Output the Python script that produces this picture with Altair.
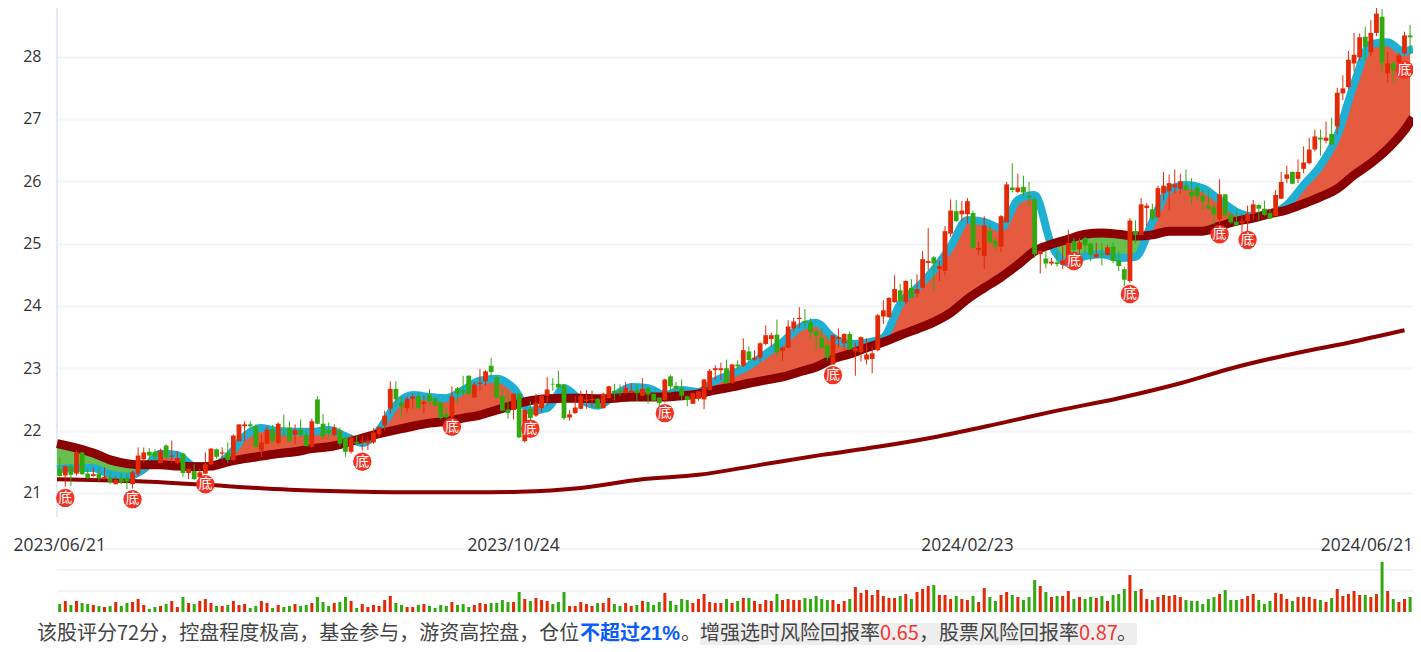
import altair as alt
import numpy as np
import pandas as pd

opens = [21.39,21.28,21.43,21.31,21.65,21.31,21.27,21.31,21.23,21.25,
21.14,21.24,21.24,21.14,21.31,21.54,21.66,21.66,21.48,21.76,
21.58,21.48,21.63,21.32,21.35,21.25,21.31,21.46,21.70,21.63,
21.65,21.53,21.83,22.07,22.10,22.07,21.68,21.79,22.02,21.80,
22.05,22.05,21.93,22.02,21.93,21.74,22.50,22.11,22.01,21.93,
22.01,21.89,21.66,21.82,21.82,21.80,21.81,21.94,22.08,22.35,
22.67,22.45,22.36,22.51,22.55,22.43,22.58,22.52,22.45,22.26,
22.22,22.68,22.65,22.88,22.53,22.75,22.79,23.04,22.86,22.55,
22.34,22.33,22.59,21.83,22.35,22.24,22.36,22.56,22.75,22.75,
22.74,22.21,22.28,22.35,22.47,22.49,22.51,22.36,22.52,22.64,
22.65,22.60,22.62,22.65,22.56,22.68,22.59,22.53,22.49,22.87,
22.72,22.68,22.55,22.43,22.51,22.50,22.65,22.97,22.97,23.00,
22.76,23.06,23.04,23.27,23.14,23.17,23.39,23.47,23.54,23.28,
23.33,23.64,23.79,23.76,23.74,23.59,23.49,23.37,23.06,23.47,
23.40,23.55,23.27,23.26,23.14,23.15,23.29,23.83,23.82,24.06,
24.25,24.06,24.29,24.20,24.29,24.69,24.78,24.59,24.56,25.16,
25.52,25.47,25.47,25.49,24.90,24.80,25.20,25.04,24.95,25.34,
25.90,25.83,25.91,25.77,25.71,24.83,24.76,24.68,24.70,24.66,
24.80,25.04,24.91,25.09,25.00,24.78,24.84,24.82,24.95,24.73,
24.59,24.40,25.20,25.14,25.57,25.55,25.42,25.81,25.84,25.90,
25.88,25.93,25.83,25.90,25.76,25.61,25.58,25.39,25.79,25.46,
25.35,25.33,25.36,25.48,25.62,25.56,25.49,25.44,25.72,26.04,
26.15,26.04,26.20,26.29,26.51,26.70,26.65,26.76,26.88,27.41,
27.51,27.89,27.99,28.32,28.07,28.38,28.64,27.73,27.89,27.90,
28.05,28.34]

closes = [21.27,21.43,21.29,21.65,21.30,21.24,21.30,21.24,21.26,21.18,
21.21,21.17,21.18,21.33,21.60,21.65,21.60,21.57,21.68,21.57,
21.60,21.56,21.32,21.39,21.22,21.33,21.46,21.71,21.58,21.65,
21.53,21.92,22.10,22.10,22.07,21.74,21.81,22.02,21.83,22.11,
22.04,21.83,22.01,21.93,21.75,22.15,22.11,21.91,21.96,22.05,
21.79,21.66,21.89,21.79,21.84,21.84,21.97,22.06,22.24,22.67,
22.50,22.39,22.51,22.55,22.36,22.46,22.47,22.40,22.20,22.21,
22.55,22.59,22.61,22.59,22.74,22.77,22.95,22.94,22.53,22.32,
22.28,22.59,21.89,22.33,22.20,22.44,22.56,22.66,22.74,22.69,
22.20,22.26,22.37,22.56,22.50,22.51,22.36,22.59,22.71,22.60,
22.61,22.69,22.64,22.60,22.67,22.58,22.48,22.44,22.82,22.71,
22.67,22.56,22.49,22.60,22.63,22.82,22.96,23.00,23.00,22.76,
23.06,23.03,23.29,23.13,23.17,23.40,23.53,23.53,23.26,23.33,
23.67,23.75,23.81,23.73,23.58,23.52,23.33,23.17,23.53,23.50,
23.55,23.30,23.33,23.50,23.22,23.24,23.85,23.93,24.13,24.27,
24.08,24.40,24.13,24.27,24.75,24.72,24.68,24.64,25.20,25.53,
25.36,25.53,25.68,24.93,24.93,25.29,25.02,24.97,25.44,25.95,
25.86,25.90,25.82,25.74,24.83,24.88,24.68,24.71,24.67,24.73,
25.01,24.90,25.02,24.97,24.82,24.83,24.82,24.94,24.72,24.64,
24.42,25.37,25.14,25.63,25.61,25.40,25.89,25.93,25.97,25.95,
26.00,25.86,25.76,25.76,25.68,25.56,25.47,25.79,25.45,25.34,
25.29,25.36,25.48,25.63,25.56,25.46,25.40,25.78,25.99,26.11,
25.96,26.15,26.30,26.51,26.72,26.67,26.70,26.59,27.42,27.49,
27.95,28.03,28.31,28.16,28.38,28.69,27.90,27.89,27.78,28.02,
28.34,28.31]

highs = [21.58,21.44,21.46,21.68,21.66,21.40,21.41,21.41,21.41,21.34,
21.27,21.31,21.31,21.36,21.73,21.73,21.72,21.70,21.71,21.78,
21.84,21.67,21.64,21.39,21.46,21.39,21.65,21.72,21.71,21.73,
21.81,21.94,22.10,22.15,22.15,22.10,21.94,22.07,22.09,22.13,
22.26,22.15,22.10,22.18,22.01,22.19,22.55,22.27,22.13,22.10,
22.05,21.91,21.93,21.93,21.92,21.89,22.04,22.06,22.32,22.79,
22.79,22.55,22.55,22.60,22.61,22.56,22.67,22.53,22.47,22.37,
22.71,22.70,22.88,22.89,22.78,22.99,22.97,23.17,22.87,22.67,
22.63,22.60,22.60,22.35,22.47,22.59,22.58,22.86,22.84,22.96,
22.75,22.33,22.55,22.64,22.65,22.64,22.52,22.61,22.72,22.75,
22.74,22.78,22.76,22.74,22.84,22.70,22.60,22.53,22.83,22.89,
22.78,22.82,22.56,22.61,22.64,22.83,22.99,23.05,23.09,23.14,
23.07,23.13,23.48,23.35,23.29,23.42,23.69,23.57,23.78,23.35,
23.77,23.81,23.98,23.95,23.80,23.63,23.64,23.53,23.54,23.64,
23.56,23.59,23.41,23.51,23.48,23.34,23.87,24.09,24.14,24.49,
24.35,24.41,24.43,24.51,24.88,25.25,24.80,24.73,25.28,25.71,
25.70,25.68,25.73,25.53,25.04,25.44,25.31,25.09,25.46,25.99,
26.29,26.12,26.09,25.99,25.75,24.89,24.89,24.77,24.88,24.98,
25.22,25.09,25.09,25.11,25.01,25.01,25.01,24.98,25.02,24.88,
24.63,25.41,25.37,25.73,25.65,25.64,25.93,26.15,26.11,26.19,
26.12,26.19,26.05,25.95,25.87,25.87,25.65,26.03,25.79,25.51,
25.55,25.47,25.61,25.70,25.63,25.69,25.56,25.86,26.15,26.25,
26.16,26.35,26.56,26.70,26.83,26.83,26.96,27.02,27.50,27.70,
28.09,28.38,28.37,28.48,28.59,28.80,28.76,28.07,27.93,28.06,
28.40,28.51]

lows = [21.26,21.10,21.11,21.28,21.29,21.22,21.26,21.19,21.22,21.14,
21.14,21.14,21.06,21.07,21.27,21.49,21.52,21.53,21.48,21.55,
21.49,21.46,21.26,21.22,21.21,21.20,21.30,21.45,21.55,21.53,
21.48,21.51,21.83,21.82,22.00,21.73,21.57,21.78,21.80,21.76,
21.90,21.82,21.78,21.89,21.75,21.73,22.10,21.87,21.90,21.90,
21.75,21.58,21.63,21.78,21.68,21.69,21.79,21.89,22.00,22.27,
22.39,22.22,22.29,22.35,22.35,22.28,22.40,22.38,22.18,22.19,
22.20,22.43,22.56,22.56,22.52,22.64,22.72,22.86,22.52,22.31,
22.19,22.18,21.88,21.81,22.04,22.22,22.29,22.40,22.64,22.67,
22.17,22.16,22.27,22.34,22.35,22.37,22.35,22.35,22.51,22.48,
22.56,22.59,22.60,22.47,22.55,22.43,22.47,22.39,22.45,22.60,
22.64,22.49,22.39,22.43,22.48,22.34,22.64,22.81,22.81,22.75,
22.75,22.97,23.02,23.09,23.12,23.11,23.37,23.34,23.18,23.12,
23.32,23.59,23.64,23.66,23.47,23.30,23.31,23.12,23.06,23.34,
23.29,23.30,22.88,23.11,23.06,22.92,23.27,23.71,23.81,24.05,
24.01,24.03,24.13,24.14,24.28,24.57,24.24,24.40,24.49,25.11,
25.35,25.36,25.32,24.92,24.81,24.59,25.00,24.90,24.87,25.34,
25.82,25.81,25.76,25.59,24.77,24.52,24.60,24.65,24.63,24.59,
24.72,24.77,24.84,24.85,24.72,24.77,24.65,24.81,24.69,24.56,
24.32,24.37,25.01,25.14,25.28,25.36,25.42,25.69,25.53,25.80,
25.80,25.84,25.63,25.68,25.55,25.55,25.30,25.32,25.44,25.32,
25.28,25.17,25.20,25.38,25.38,25.44,25.40,25.44,25.71,25.97,
25.95,25.97,26.13,26.27,26.48,26.41,26.61,26.58,26.75,27.30,
27.48,27.76,27.93,27.93,28.00,28.33,27.74,27.59,27.59,27.87,
28.02,28.03]

volumes = [24,33,21,33,27,24,21,18,15,18,
30,18,27,30,39,21,9,15,18,24,
33,15,45,27,24,33,39,27,18,18,
21,33,21,24,12,18,33,27,12,21,
15,18,24,18,21,27,45,30,18,27,
30,45,33,12,24,15,21,18,36,48,
27,21,15,15,21,24,18,12,21,18,
30,21,24,15,21,27,24,27,27,36,
30,30,60,39,33,42,36,33,24,30,
60,18,18,30,24,18,27,27,42,24,
18,27,18,21,33,30,21,30,57,33,
21,39,36,27,39,54,30,27,27,39,
27,33,42,42,33,24,36,33,54,36,
39,36,36,42,39,48,39,36,36,24,
33,39,75,57,66,51,66,48,42,42,
48,54,39,60,69,78,81,51,51,39,
48,39,36,48,30,72,45,33,51,60,
51,45,36,45,96,78,60,45,48,48,
63,39,45,39,45,42,48,33,51,54,
69,111,63,69,39,36,45,51,48,51,
45,36,33,33,24,39,45,54,66,36,
36,39,48,54,36,24,33,57,54,39,
33,45,45,45,39,36,30,42,69,48,
54,63,51,51,45,54,150,63,39,30,
39,45]

ma_idx = [-0.48] + list(range(3, 241, 3)) + [241, 241.52]
ma_mid = [21.79,21.72,21.64,21.53,21.47,21.45,21.45,21.43,21.42,21.43,
21.50,21.55,21.59,21.63,21.66,21.71,21.74,21.80,21.88,21.95,
22.01,22.07,22.12,22.15,22.20,22.25,22.33,22.41,22.48,22.51,
22.52,22.52,22.51,22.52,22.54,22.54,22.54,22.56,22.59,22.65,
22.70,22.76,22.81,22.86,22.94,23.02,23.15,23.23,23.33,23.42,
23.53,23.63,23.74,23.89,24.11,24.29,24.46,24.66,24.88,24.99,
25.07,25.15,25.17,25.15,25.12,25.14,25.20,25.20,25.20,25.28,
25.36,25.41,25.48,25.54,25.64,25.75,25.88,26.10,26.29,26.52,
26.82,26.95,27.02]
ma_fast = [21.38,21.40,21.40,21.30,21.26,21.38,21.63,21.61,21.43,21.43,
21.58,21.91,22.04,21.99,21.98,21.98,22.01,21.91,21.80,22.01,
22.41,22.57,22.54,22.52,22.65,22.80,22.83,22.68,22.32,22.36,
22.68,22.49,22.40,22.56,22.70,22.68,22.57,22.65,22.62,22.80,
22.91,23.04,23.23,23.42,23.65,23.73,23.49,23.39,23.41,23.49,
24.03,24.29,24.58,24.95,25.38,25.35,25.25,25.70,25.78,24.98,
24.69,24.80,24.83,24.77,24.79,25.35,25.86,25.94,25.89,25.70,
25.51,25.44,25.48,25.62,25.94,26.25,26.73,27.56,28.20,28.23,
28.07,28.11,28.12]

slow_idx = [-0.48,13,26,41,54,63,73,82,93,104,114,125,136,146,157,168,178,189,200,210,221,230,240]
ma_slow = [21.22,21.19,21.13,21.05,21.02,21.01,21.01,21.02,21.08,21.22,21.29,21.45,21.61,21.74,21.91,22.12,22.32,22.52,22.76,23.02,23.25,23.41,23.61]

marker_idx = [1,13,26,54,70,84,108,138,181,191,207,212,240]
marker_val = [20.92,20.90,21.14,21.50,22.06,22.03,22.28,22.89,24.72,24.19,25.15,25.06,27.79]

date_labels = ["2023/06/21", "2023/10/24", "2024/02/23"]
date_idx = [0, 81, 162]
last_date = "2024/06/21"
last_idx = 241

price_ticks = [21, 22, 23, 24, 25, 26, 27, 28]
volume_grid = [63, 126, 189]

RED = "#E22A06"
GREEN = "#31A90F"
GRID = "#F3F4F9"
DARK = "#8B0000"
TEXTCOL = "#444444"
CJK = "Noto Sans CJK SC"

candles = pd.DataFrame({"i": range(len(opens)), "o": opens, "c": closes, "h": highs, "l": lows, "v": volumes})
candles["dir"] = np.where(candles["c"] >= candles["o"], "up", "down")

ma = pd.DataFrame({"i": ma_idx, "mid": ma_mid, "fast": ma_fast})
ma["upper"] = ma[["mid", "fast"]].max(axis=1)
ma["lower"] = ma[["mid", "fast"]].min(axis=1)
green_spans = [ma[ma["i"] <= 15], ma[(ma["i"] >= 174) & (ma["i"] <= 195)]]
red_spans = [ma[(ma["i"] >= 15) & (ma["i"] <= 174)], ma[(ma["i"] >= 195) & (ma["i"] <= 241)]]
slow = pd.DataFrame({"i": slow_idx, "v": ma_slow})
markers = pd.DataFrame({"i": marker_idx, "v": marker_val})
dates = pd.DataFrame({"i": date_idx, "t": date_labels})

xs = alt.Scale(domain=[-0.48, 241.52], nice=False, zero=False)
ps = alt.Scale(domain=[18.56, 28.78], nice=False, zero=False)
vs = alt.Scale(domain=[-99, 1812], nice=False, zero=False)
X = alt.X("i:Q", scale=xs, axis=None)
colr = alt.Color("dir:N", scale=alt.Scale(domain=["up", "down"], range=[RED, GREEN]), legend=None)


def Yp(f):
    return alt.Y(f, type="quantitative", scale=ps, axis=None)


price_grid = alt.Chart(pd.DataFrame({"v": price_ticks})).mark_rule(opacity=0).encode(
    y=alt.Y("v:Q", scale=ps, axis=alt.Axis(values=price_ticks, grid=True, gridColor=GRID, gridWidth=2,
                                           domain=False, ticks=False, title=None, format="d",
                                           labelFont="Open Sans", labelFontSize=16, labelColor="#333333",
                                           labelPadding=16))
)
vol_grid = alt.Chart(pd.DataFrame({"v": volume_grid})).mark_rule(color=GRID, strokeWidth=2).encode(
    y=alt.Y("v:Q", scale=vs, axis=None)
)
left_line = alt.Chart(pd.DataFrame({"a": [0]})).mark_rule(color="#C6D8EE", strokeWidth=1).encode(
    x=alt.value(0), y=alt.value(0), y2=alt.value(509)
)

fills = [alt.Chart(d).mark_area(color="#67BF4F", interpolate="monotone").encode(x=X, y=Yp("lower"), y2="mid:Q")
         for d in green_spans]
fills += [alt.Chart(d).mark_area(color="#E55B40", interpolate="monotone").encode(x=X, y=Yp("upper"), y2="mid:Q")
          for d in red_spans]
blue = alt.Chart(ma).mark_line(color="#1FAFD3", strokeWidth=8, interpolate="monotone").encode(x=X, y=Yp("fast"))
mid = alt.Chart(ma).mark_line(color=DARK, strokeWidth=9, interpolate="monotone").encode(x=X, y=Yp("mid"))
long_ma = alt.Chart(slow).mark_line(color=DARK, strokeWidth=4, interpolate="monotone").encode(x=X, y=Yp("v"))

wick = alt.Chart(candles).mark_rule(strokeWidth=1).encode(x=X, y=Yp("h"), y2="l:Q", color=colr)
body = alt.Chart(candles).mark_rule(strokeWidth=4.8).encode(x=X, y=Yp("o"), y2="c:Q", color=colr)
vol = alt.Chart(candles).mark_rule(strokeWidth=3).encode(
    x=X, y=alt.Y("v:Q", scale=vs, axis=None), y2=alt.Y2(datum=0), color=colr
)

dots = alt.Chart(markers).mark_circle(size=340, color="#F23222", opacity=1).encode(x=X, y=Yp("v"))
dot_txt = alt.Chart(markers).mark_text(text="底", color="white", font=CJK, fontSize=14).encode(x=X, y=Yp("v"))

date_txt = alt.Chart(dates).mark_text(font="Open Sans", fontSize=17.4, color="#333333").encode(
    x=X, y=alt.value(538), text="t:N"
)
last_txt = alt.Chart(pd.DataFrame({"i": [last_idx], "t": [last_date]})).mark_text(
    font="Open Sans", fontSize=17.4, color="#333333", align="right", dx=3
).encode(x=X, y=alt.value(538), text="t:N")

bg = alt.Chart(pd.DataFrame({"a": [0]})).mark_rect(color="#EEEEEE").encode(
    x=alt.value(643), x2=alt.value(1080), y=alt.value(615), y2=alt.value(637)
)


def piece(txt, page_x, color=TEXTCOL, weight="normal", font=CJK):
    return alt.Chart(pd.DataFrame({"t": [txt]})).mark_text(
        align="left", baseline="middle", font=font, fontSize=20, color=color, fontWeight=weight
    ).encode(x=alt.value(page_x - 57), y=alt.value(626), text="t:N")


pieces = [
    piece("该股评分72分，控盘程度极高，基金参与，游资高控盘，仓位", 37),
    piece("不超过", 580, "#0B5CFF", "bold"),
    piece("21%", 640, "#0B5CFF", "bold", "Liberation Sans"),
    piece("。", 681),
    piece("增强选时风险回报率", 700),
    piece("0.65", 880, "#F53535"),
    piece("，股票风险回报率", 919),
    piece("0.87", 1079, "#F53535"),
    piece("。", 1117),
]

chart = alt.layer(
    price_grid, vol_grid, left_line, *fills, blue, long_ma, mid, wick, body, vol,
    dots, dot_txt, date_txt, last_txt, bg, *pieces
).resolve_scale(y="independent").properties(
    width=1356, height=637,
    padding={"left": 49, "top": 0, "right": 0, "bottom": 0},
    autosize=alt.AutoSizeParams(type="none"),
    background="white",
).configure_view(stroke=None)

chart.save("out.html", embed_options={"renderer": "svg", "actions": False})
